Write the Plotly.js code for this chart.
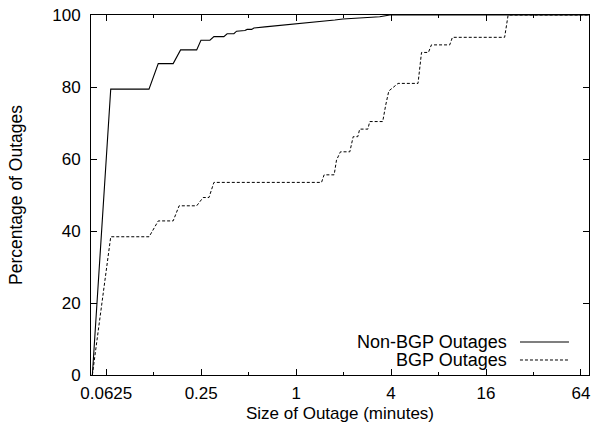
<!DOCTYPE html>
<html>
<head>
<meta charset="utf-8">
<script src="https://cdn.plot.ly/plotly-3.0.1.min.js"></script>
<style>html,body{margin:0;padding:0;background:#fff;}#chart{width:594px;height:432px;}</style>
</head>
<body>
<div id="chart"></div>
<script>
// Non-BGP outages CDF (size in minutes, cumulative %)
const nonBgpX = [0.051, 0.0667, 0.1166, 0.1335, 0.166, 0.185, 0.234, 0.249, 0.284, 0.301, 0.348, 0.365, 0.403, 0.419, 0.473, 0.489, 0.522, 0.540, 0.634, 0.848, 0.98, 1.05, 1.76, 1.98, 3.39, 3.93, 72];
const nonBgpY = [0, 79.4, 79.4, 86.5, 86.5, 90.3, 90.3, 93.0, 93.0, 94.0, 94.0, 94.8, 94.8, 95.5, 95.7, 96.0, 96.0, 96.4, 96.7, 97.2, 97.5, 97.7, 98.6, 98.9, 99.5, 100, 100];
// BGP outages CDF
const bgpX = [0.051, 0.0667, 0.1168, 0.1335, 0.166, 0.181, 0.234, 0.257, 0.280, 0.301, 1.449, 1.504, 1.742, 1.803, 1.91, 2.19, 2.30, 2.46, 2.53, 2.85, 2.93, 3.54, 3.70, 3.87, 4.43, 5.93, 6.24, 6.9, 7.21, 9.42, 9.80, 21.0, 22.1, 72];
const bgpY = [0, 38.4, 38.4, 42.8, 42.8, 47.0, 47.0, 49.3, 49.3, 53.5, 53.5, 55.6, 55.6, 59.7, 62.0, 62.0, 66.2, 66.2, 68.3, 68.3, 70.4, 70.4, 75.0, 78.9, 81.0, 81.0, 89.6, 89.6, 91.7, 91.7, 93.8, 93.8, 100, 100];

const xTickVals = [0.0625, 0.25, 1, 4, 16, 64];
const xTickText = ['0.0625', '0.25', '1', '4', '16', '64'];
const xMinorVals = [0.125, 0.5, 2, 8, 32];
const yTickVals = [0, 20, 40, 60, 80, 100];
const seriesNames = ['Non-BGP Outages', 'BGP Outages'];

const FONT = 'Liberation Sans, Arial, Helvetica, sans-serif';

const traces = [
  {x: nonBgpX, y: nonBgpY, type: 'scatter', mode: 'lines', name: seriesNames[0],
   line: {color: '#000', width: 1.1}},
  {x: bgpX, y: bgpY, type: 'scatter', mode: 'lines', name: seriesNames[1],
   line: {color: '#000', width: 1, dash: '3px,2px'}}
];

const legX0 = 0.8614, legX1 = 0.9598;
const legY = [0.0917, 0.0417];

const layout = {
  width: 594, height: 432,
  margin: {l: 91, r: 5, t: 15, b: 57},
  paper_bgcolor: '#fff', plot_bgcolor: '#fff',
  showlegend: false,
  font: {family: FONT, size: 17, color: '#000'},
  xaxis: {
    type: 'log', range: [Math.log10(0.05), Math.log10(72)],
    tickmode: 'array', tickvals: xTickVals, ticktext: xTickText,
    ticks: 'inside', ticklen: 6, tickwidth: 1, tickcolor: '#000',
    minor: {tickmode: 'array', tickvals: xMinorVals, ticks: 'inside', ticklen: 3, tickcolor: '#000', showgrid: false},
    showline: true, linecolor: '#000', linewidth: 1, mirror: 'ticks',
    showgrid: false, zeroline: false,
    ticklabelstandoff: 3,
    tickfont: {family: FONT, size: 17},
    title: {text: 'Size of Outage (minutes)', font: {family: FONT, size: 17}, standoff: 4}
  },
  yaxis: {
    range: [0, 100],
    tickmode: 'array', tickvals: yTickVals,
    ticks: 'inside', ticklen: 6, tickwidth: 1, tickcolor: '#000',
    showline: true, linecolor: '#000', linewidth: 1, mirror: 'ticks',
    showgrid: false, zeroline: false,
    ticklabelstandoff: 6,
    tickfont: {family: FONT, size: 17},
    title: {text: 'Percentage of Outages', font: {family: FONT, size: 17.5}, standoff: 25}
  },
  annotations: seriesNames.map((n, i) => ({
    text: n, xref: 'paper', yref: 'paper', x: 0.839, y: legY[i],
    xanchor: 'right', yanchor: 'middle', showarrow: false,
    font: {family: FONT, size: 18, color: '#000'}
  })),
  shapes: [
    {type: 'line', xref: 'paper', yref: 'paper', x0: legX0, x1: legX1, y0: legY[0], y1: legY[0],
     line: {color: '#000', width: 1.1}},
    {type: 'line', xref: 'paper', yref: 'paper', x0: legX0, x1: legX1, y0: legY[1], y1: legY[1],
     line: {color: '#000', width: 1, dash: '3px,2px'}}
  ]
};

Plotly.newPlot('chart', traces, layout, {staticPlot: true, displayModeBar: false});
</script>
</body>
</html>
